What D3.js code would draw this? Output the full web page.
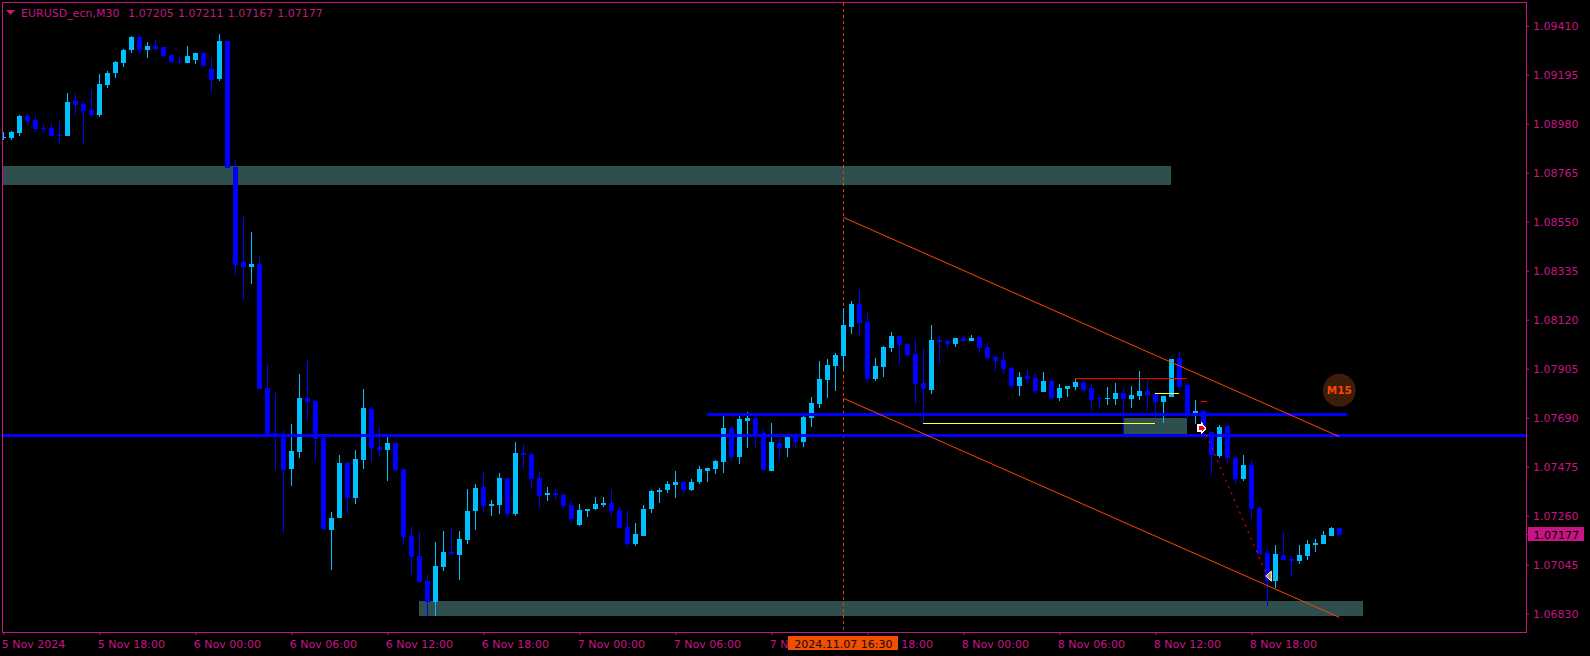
<!DOCTYPE html>
<html><head><meta charset="utf-8">
<script src="https://cdn.jsdelivr.net/npm/d3@7/dist/d3.min.js"></script>
<style>html,body{margin:0;padding:0;background:#000;overflow:hidden}svg{display:block}text{font-family:"DejaVu Sans",sans-serif;font-size:11px}</style>
</head><body><svg id="c" width="1590" height="656"></svg>
<script>
const symbolTitle = "EURUSD_ecn,M30";
const ohlcTitle = "1.07205 1.07211 1.07167 1.07177";
const priceTicks = [1.09410,1.09195,1.08980,1.08765,1.08550,1.08335,1.08120,1.07905,1.07690,1.07475,1.07260,1.07045,1.06830];
const timeTickBars = [0,12,24,36,48,60,72,84,96,108,120,132,144,156];
const timeTickLabels = ["5 Nov 2024","5 Nov 18:00","6 Nov 00:00","6 Nov 06:00","6 Nov 12:00","6 Nov 18:00","7 Nov 00:00","7 Nov 06:00","7 Nov 12:00","7 Nov 18:00","8 Nov 00:00","8 Nov 06:00","8 Nov 12:00","8 Nov 18:00"];
const opens = [1.08917,1.08917,1.08939,1.09014,1.08996,1.08961,1.08961,1.08931,1.08926,1.09080,1.09066,1.09040,1.09018,1.09150,1.09203,1.09246,1.09303,1.09361,1.09303,1.09321,1.09317,1.09282,1.09255,1.09246,1.09260,1.09290,1.09220,1.09176,1.09343,1.08790,1.08373,1.08351,
1.08365,1.07820,1.07623,1.07610,1.07465,1.07540,1.07777,1.07763,1.07601,1.07197,1.07250,1.07491,1.07338,1.07504,1.07728,1.07562,1.07548,1.07579,1.07465,1.07171,1.07083,1.06974,1.06881,1.07035,1.07101,1.07088,1.07153,1.07281,1.07386,1.07303,1.07307,1.07425,
1.07268,1.07535,1.07531,1.07425,1.07351,1.07360,1.07351,1.07307,1.07219,1.07281,1.07289,1.07307,1.07316,1.07285,1.07211,1.07136,1.07171,1.07289,1.07364,1.07373,1.07395,1.07408,1.07373,1.07408,1.07456,1.07465,1.07496,1.07645,1.07518,1.07676,1.07689,1.07623,
1.07456,1.07579,1.07557,1.07619,1.07583,1.07689,1.07750,1.07856,1.07917,1.07961,1.08088,1.08189,1.08110,1.07860,1.07913,1.07996,1.08049,1.08013,1.07970,1.07842,1.07812,1.08031,1.08027,1.08013,1.08040,1.08027,1.08044,1.08000,1.07956,1.07943,1.07908,1.07829,
1.07873,1.07864,1.07803,1.07851,1.07777,1.07816,1.07825,1.07847,1.07820,1.07777,1.07772,1.07772,1.07798,1.07772,1.07785,1.07807,1.07794,1.07759,1.07781,1.07952,1.07834,1.07706,1.07719,1.07627,1.07522,1.07653,1.07513,1.07421,1.07482,1.07294,1.07096,1.06974,
1.07088,1.07070,1.07061,1.07083,1.07132,1.07136,1.07171,1.07205];
const highs = [1.08944,1.08948,1.09018,1.09023,1.09018,1.08979,1.08983,1.08992,1.09115,1.09115,1.09080,1.09128,1.09198,1.09211,1.09255,1.09308,1.09365,1.09369,1.09339,1.09347,1.09317,1.09286,1.09273,1.09321,1.09290,1.09295,1.09268,1.09374,1.09343,1.08825,1.08575,1.08505,
1.08395,1.07926,1.07798,1.07636,1.07662,1.07882,1.07948,1.07768,1.07605,1.07276,1.07526,1.07500,1.07548,1.07816,1.07741,1.07649,1.07605,1.07583,1.07465,1.07215,1.07189,1.07004,1.07145,1.07193,1.07202,1.07193,1.07377,1.07399,1.07456,1.07329,1.07447,1.07425,
1.07583,1.07575,1.07535,1.07452,1.07386,1.07377,1.07360,1.07325,1.07311,1.07289,1.07342,1.07342,1.07373,1.07303,1.07285,1.07228,1.07307,1.07373,1.07382,1.07412,1.07456,1.07412,1.07421,1.07478,1.07469,1.07504,1.07698,1.07654,1.07698,1.07715,1.07693,1.07641,
1.07667,1.07601,1.07619,1.07623,1.07698,1.07781,1.07939,1.07948,1.07974,1.08171,1.08202,1.08250,1.08149,1.07952,1.08005,1.08066,1.08049,1.08018,1.08035,1.07996,1.08097,1.08049,1.08035,1.08040,1.08053,1.08053,1.08049,1.08022,1.07965,1.07978,1.07917,1.07891,
1.07899,1.07886,1.07891,1.07856,1.07838,1.07829,1.07860,1.07847,1.07842,1.07790,1.07825,1.07842,1.07820,1.07829,1.07895,1.07856,1.07807,1.07785,1.07948,1.07978,1.07842,1.07768,1.07728,1.07632,1.07658,1.07658,1.07522,1.07526,1.07504,1.07303,1.07114,1.07132,
1.07189,1.07083,1.07132,1.07153,1.07158,1.07193,1.07211,1.07211];
const lows = [1.08909,1.08909,1.08926,1.08970,1.08944,1.08939,1.08926,1.08895,1.08926,1.09018,1.08891,1.09009,1.09009,1.09137,1.09181,1.09229,1.09290,1.09286,1.09268,1.09299,1.09268,1.09242,1.09242,1.09246,1.09242,1.09233,1.09115,1.09168,1.08786,1.08316,1.08207,1.08276,
1.07816,1.07619,1.07461,1.07184,1.07390,1.07513,1.07676,1.07500,1.07197,1.07022,1.07250,1.07268,1.07311,1.07465,1.07496,1.07518,1.07412,1.07452,1.07132,1.07004,1.06965,1.06820,1.06820,1.07017,1.07083,1.06978,1.07136,1.07197,1.07272,1.07259,1.07268,1.07254,
1.07259,1.07465,1.07377,1.07294,1.07325,1.07329,1.07289,1.07228,1.07215,1.07254,1.07285,1.07298,1.07254,1.07202,1.07123,1.07127,1.07171,1.07272,1.07316,1.07360,1.07338,1.07355,1.07368,1.07399,1.07408,1.07443,1.07447,1.07500,1.07487,1.07557,1.07562,1.07456,
1.07456,1.07500,1.07518,1.07557,1.07562,1.07649,1.07733,1.07777,1.07807,1.07899,1.08057,1.08044,1.07842,1.07851,1.07869,1.07978,1.07921,1.07956,1.07750,1.07667,1.07794,1.07926,1.07992,1.08000,1.08022,1.08027,1.07974,1.07939,1.07895,1.07882,1.07816,1.07785,
1.07842,1.07794,1.07803,1.07768,1.07763,1.07781,1.07812,1.07798,1.07724,1.07733,1.07746,1.07746,1.07619,1.07733,1.07768,1.07719,1.07689,1.07667,1.07781,1.07812,1.07689,1.07662,1.07614,1.07439,1.07513,1.07491,1.07399,1.07412,1.07250,1.07092,1.06864,1.06942,
1.07066,1.06991,1.07048,1.07066,1.07101,1.07136,1.07171,1.07167];
const closes = [1.08922,1.08944,1.09014,1.08992,1.08957,1.08957,1.08926,1.08926,1.09075,1.09062,1.09036,1.09018,1.09154,1.09203,1.09251,1.09303,1.09361,1.09303,1.09321,1.09308,1.09277,1.09251,1.09251,1.09277,1.09290,1.09233,1.09172,1.09343,1.08786,1.08360,1.08351,1.08365,
1.07816,1.07619,1.07619,1.07461,1.07544,1.07777,1.07759,1.07597,1.07202,1.07250,1.07491,1.07338,1.07509,1.07733,1.07557,1.07548,1.07579,1.07461,1.07167,1.07079,1.06969,1.06881,1.07039,1.07101,1.07092,1.07158,1.07281,1.07382,1.07303,1.07311,1.07425,1.07268,
1.07535,1.07526,1.07421,1.07347,1.07360,1.07351,1.07303,1.07246,1.07285,1.07289,1.07311,1.07316,1.07281,1.07206,1.07136,1.07180,1.07289,1.07368,1.07373,1.07399,1.07408,1.07373,1.07408,1.07465,1.07469,1.07500,1.07645,1.07518,1.07684,1.07689,1.07614,1.07461,
1.07583,1.07557,1.07610,1.07583,1.07693,1.07755,1.07860,1.07921,1.07965,1.08097,1.08189,1.08106,1.07860,1.07917,1.08000,1.08049,1.08009,1.07965,1.07838,1.07816,1.08031,1.08022,1.08013,1.08040,1.08027,1.08040,1.07996,1.07952,1.07939,1.07904,1.07829,1.07869,
1.07860,1.07807,1.07851,1.07777,1.07820,1.07829,1.07847,1.07812,1.07768,1.07772,1.07777,1.07798,1.07772,1.07790,1.07807,1.07790,1.07759,1.07785,1.07948,1.07825,1.07706,1.07719,1.07636,1.07526,1.07649,1.07513,1.07421,1.07482,1.07289,1.07092,1.06974,1.07092,
1.07066,1.07061,1.07088,1.07136,1.07140,1.07175,1.07206,1.07177];
// overlays: [fromBar, toBar, priceA, priceB]
const zones = [[-1,146,1.08795,1.08711],[52,170,1.06886,1.06820],[140,148,1.07689,1.07619]];
const blueLines = [[-1,191,1.07612],[88,168,1.07704]];
const yellowLines = [[115,144,1.07666],[144,147,1.07797]];
const redLines = [[134,148,1.07863],[149.65,150.5,1.07762]];
const trendLines = [[105,167,1.08569,1.07607],[105,167,1.07775,1.06814]];
const signalLine = [150,158,1.07644,1.06995];
const markerBar = 105;
const crossLabel = "2024.11.07 16:30";
const lastPrice = 1.07177;
const badgeBar = 167, badgePrice = 1.07810, badgeLabel = "M15";

const MAGENTA="#C71585", UP="#00BFFF", DOWN="#0000FF", ZONE="#2F4F4F", ORANGE="#FF4500";
const svg=d3.select("#c");
const x=d3.scaleLinear().domain([0,167]).range([3.33,1339.33]);
const y=d3.scaleLinear().domain([1.0683,1.0941]).range([613.7,25.7]);
const plot=svg.append("g");
const clipId="plotclip";
svg.append("clipPath").attr("id",clipId).append("rect").attr("x",3).attr("y",3).attr("width",1523).attr("height",629);
plot.attr("clip-path",`url(#${clipId})`);

// zones
plot.append("g").attr("shape-rendering","crispEdges").selectAll("rect").data(zones).join("rect")
 .attr("x",d=>x(d[0])).attr("width",d=>x(d[1])-x(d[0])).attr("y",d=>Math.round(y(d[2]))).attr("height",d=>Math.round(y(d[3]))-Math.round(y(d[2]))).attr("fill",ZONE);
// marker vertical
plot.append("line").attr("x1",Math.floor(x(markerBar))+.5).attr("x2",Math.floor(x(markerBar))+.5).attr("y1",3).attr("y2",632)
 .attr("stroke",ORANGE).attr("stroke-width",1).attr("stroke-dasharray","3,3").attr("opacity",.9);

// candles
const idx=d3.range(opens.length);
const cg=plot.append("g").attr("shape-rendering","crispEdges");
const col=i=>closes[i]>=opens[i]?UP:DOWN;
cg.selectAll(".w").data(idx).join("rect").attr("class","w")
 .attr("x",i=>Math.floor(x(i))).attr("width",1)
 .attr("y",i=>Math.round(y(highs[i]))).attr("height",i=>Math.max(1,Math.round(y(lows[i]))-Math.round(y(highs[i]))))
 .attr("fill",col);
cg.selectAll(".b").data(idx).join("rect").attr("class","b")
 .attr("x",i=>Math.floor(x(i))-2).attr("width",5)
 .attr("y",i=>Math.round(y(Math.max(opens[i],closes[i]))))
 .attr("height",i=>Math.max(1,Math.round(y(Math.min(opens[i],closes[i])))-Math.round(y(Math.max(opens[i],closes[i])))))
 .attr("fill",col);

// level lines
const lg=plot.append("g").attr("shape-rendering","crispEdges");
lg.selectAll(".bl").data(blueLines).join("line").attr("class","bl")
 .attr("x1",d=>x(d[0])).attr("x2",d=>x(d[1])).attr("y1",d=>y(d[2])).attr("y2",d=>y(d[2])).attr("stroke",DOWN).attr("stroke-width",3);
lg.selectAll(".yl").data(yellowLines).join("line").attr("class","yl")
 .attr("x1",d=>x(d[0])).attr("x2",d=>x(d[1])).attr("y1",d=>Math.floor(y(d[2]))+.5).attr("y2",d=>Math.floor(y(d[2]))+.5).attr("stroke","#FFFF33").attr("stroke-width",1);
lg.selectAll(".rl").data(redLines).join("line").attr("class","rl")
 .attr("x1",d=>x(d[0])).attr("x2",d=>x(d[1])).attr("y1",d=>Math.floor(y(d[2]))+.5).attr("y2",d=>Math.floor(y(d[2]))+.5).attr("stroke","#FF0000").attr("stroke-width",1);
// trend lines
plot.append("g").selectAll("line").data(trendLines).join("line")
 .attr("x1",d=>x(d[0])).attr("x2",d=>x(d[1])).attr("y1",d=>y(d[2])).attr("y2",d=>y(d[3])).attr("stroke",ORANGE).attr("stroke-width",1);
// signal
plot.append("line").attr("x1",x(signalLine[0])).attr("x2",x(signalLine[1])).attr("y1",y(signalLine[2])).attr("y2",y(signalLine[3]))
 .attr("stroke","#FF0000").attr("stroke-width",1).attr("stroke-dasharray","2.5,4.5");
// arrow entry marker
const ax=x(signalLine[0]), ay=y(signalLine[2]);
plot.append("path").attr("d",d3.line()([[ax-5.5,ay-3],[ax-2,ay-3],[ax-2,ay-5],[ax+2.5,ay],[ax-2,ay+5],[ax-2,ay+3],[ax-5.5,ay+3]])+"Z")
 .attr("fill","#FF0000").attr("stroke","#fff").attr("stroke-width",1.4).attr("shape-rendering","crispEdges");
// exit marker
const ex=x(signalLine[1]), ey=y(signalLine[3]);
plot.append("path").attr("d",d3.line()([[ex-1.5,ey],[ex+4,ey-5],[ex+4,ey+5]])+"Z").attr("fill","#CC8B1E").attr("stroke","#fff").attr("stroke-width",1);
// badge
const bg=plot.append("g").attr("transform",`translate(${x(badgeBar)},${y(badgePrice)})`);
bg.append("circle").attr("r",16.5).attr("fill","#3C1D0A");
bg.append("text").attr("text-anchor","middle").attr("y",3.8).attr("fill",ORANGE).attr("font-weight","bold").style("font-size","10.5px").text(badgeLabel);

// frame
svg.append("rect").attr("x",2.5).attr("y",2.5).attr("width",1524).attr("height",630).attr("fill","none").attr("stroke",MAGENTA).attr("stroke-width",1);

// price axis
const ya=svg.append("g").attr("transform","translate(1526,0)")
 .call(d3.axisRight(y).tickValues(priceTicks).tickSize(3).tickPadding(4).tickFormat(d3.format(".5f")));
ya.select(".domain").remove();
ya.selectAll("line").attr("stroke",MAGENTA);
ya.selectAll("text").attr("fill",MAGENTA).style("font-family",'"DejaVu Sans",sans-serif').style("font-size","11px");

// time axis
const xa=svg.append("g").attr("transform","translate(0,632)")
 .call(d3.axisBottom(x).tickValues(timeTickBars).tickSize(3).tickFormat((d,i)=>timeTickLabels[i]));
xa.select(".domain").remove();
xa.selectAll("line").attr("stroke",MAGENTA);
xa.selectAll("text").attr("fill",MAGENTA).attr("text-anchor","start").attr("x",-2).attr("y",16).attr("dy",0).style("font-family",'"DejaVu Sans",sans-serif').style("font-size","11px");

// cross label
const cx=x(markerBar);
svg.append("rect").attr("x",788).attr("y",636).attr("width",110).attr("height",14).attr("fill","#F04E00");
svg.append("text").attr("x",cx).attr("y",648).attr("text-anchor","middle").attr("fill","#1a0800").text(crossLabel);

// last price label
const ly=y(lastPrice);
svg.append("line").attr("x1",1527).attr("x2",1530).attr("y1",ly).attr("y2",ly).attr("stroke",MAGENTA);
svg.append("rect").attr("x",1528).attr("y",527).attr("width",56).attr("height",14).attr("fill",MAGENTA);
svg.append("text").attr("x",1533.5).attr("y",ly+4).attr("fill","#000").text(d3.format(".5f")(lastPrice));

// title
svg.append("path").attr("d",d3.line()([[6,10],[15,10],[10.5,15]])+"Z").attr("fill",MAGENTA);
svg.append("text").attr("x",21).attr("y",17).attr("fill",MAGENTA).text(symbolTitle);
svg.append("text").attr("x",128.3).attr("y",17).attr("fill",MAGENTA).style("word-spacing","0.7px").text(ohlcTitle);
</script></body></html>
